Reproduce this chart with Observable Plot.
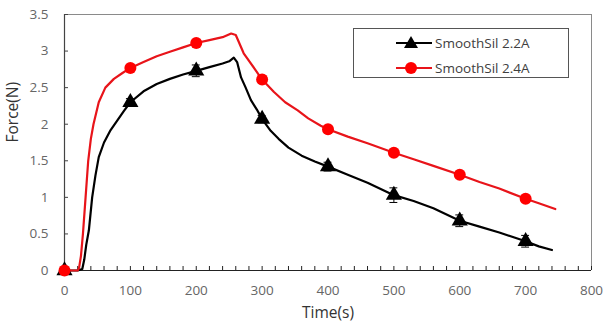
<!DOCTYPE html>
<html><head><meta charset="utf-8">
<script src="https://cdn.jsdelivr.net/npm/d3@7"></script>
<script src="https://cdn.jsdelivr.net/npm/@observablehq/plot@0.6"></script>
<style>
body{margin:0;background:#fff;}
#wrap{position:relative;width:603px;height:327px;font-family:"Open Sans",sans-serif;}
#legend{position:absolute;left:353px;top:28px;width:214px;height:48px;border:1px solid #555;background:#fff;}
.row{position:absolute;left:0;height:20px;display:flex;align-items:center;}
.row span{font-size:13.5px;color:#404040;margin-left:3px;}
</style>
</head><body>
<div id="wrap"></div>
<script>
const series22 = "SmoothSil 2.2A";
const series24 = "SmoothSil 2.4A";

// Continuous trace, SmoothSil 2.2A
const t22 = [0,20,27,30,33,37,42,47,52,60,70,80,90,100,120,140,160,180,200,220,240,250,257,262,268,275,283,292,300,313,325,340,360,380,400,430,460,500,530,560,600,630,660,700,720,740];
const f22 = [0,0,0.02,0.15,0.35,0.55,1.0,1.3,1.55,1.75,1.92,2.05,2.18,2.3,2.45,2.55,2.62,2.68,2.73,2.78,2.83,2.86,2.91,2.85,2.64,2.5,2.33,2.2,2.07,1.91,1.8,1.68,1.57,1.49,1.42,1.31,1.2,1.03,0.95,0.85,0.68,0.6,0.52,0.40,0.33,0.28];

// Continuous trace, SmoothSil 2.4A
const t24 = [0,20,22,25,28,32,36,40,44,52,62,75,88,100,120,140,160,180,200,220,240,253,260,272,290,300,318,335,354,370,389,400,430,460,500,530,560,600,630,660,700,720,745];
const f24 = [0,0,0.03,0.2,0.5,1.0,1.5,1.8,2.0,2.3,2.5,2.62,2.7,2.77,2.85,2.93,2.99,3.05,3.11,3.15,3.19,3.24,3.22,2.97,2.74,2.61,2.44,2.3,2.19,2.08,1.98,1.93,1.83,1.74,1.61,1.52,1.43,1.31,1.21,1.12,0.98,0.92,0.84];

// Markers
const mt = [0,100,200,300,400,500,600,700];
const m22 = [0,2.30,2.73,2.07,1.42,1.03,0.68,0.40];
const e22 = [0,0.05,0.08,0.05,0.06,0.10,0.08,0.08];
const m24 = [0,2.77,3.11,2.61,1.93,1.61,1.31,0.98];

const xTicks = [0,100,200,300,400,500,600,700,800];
const xMinor = d3.range(0,801,20);
const yTicks = [0,0.5,1,1.5,2,2.5,3,3.5];

const line22 = t22.map((t,i)=>({t, f:f22[i]}));
const line24 = t24.map((t,i)=>({t, f:f24[i]}));
const mk22 = mt.map((t,i)=>({t, f:m22[i], e:e22[i]}));
const mk24 = mt.map((t,i)=>({t, f:m24[i]}));
const bars22 = mk22.filter(d=>d.e>0);

const chart = Plot.plot({
  width:603, height:327,
  marginLeft:64, marginRight:12, marginTop:14, marginBottom:57,
  style:{fontFamily:"Open Sans, sans-serif", fontSize:"13.5px", color:"#666", background:"#fff", overflow:"visible"},
  x:{type:"linear", domain:[0,800], label:null},
  y:{type:"linear", domain:[0,3.5], label:null},
  marks:[
    Plot.ruleY([3.5],{stroke:"#8a8a8a", strokeWidth:1}),
    Plot.ruleX([800],{stroke:"#8a8a8a", strokeWidth:1}),
    Plot.axisX({ticks:xMinor, tickSize:-4, tickFormat:()=>"", stroke:"#222", label:null}),
    Plot.axisX({ticks:xTicks, tickSize:0, tickPadding:15, tickFormat:d=>String(d), fill:"#666", label:null}),
    Plot.axisY({ticks:yTicks, tickSize:-4, tickFormat:()=>"", stroke:"#444", label:null}),
    Plot.axisY({ticks:yTicks, tickSize:0, tickPadding:16, tickFormat:d=>String(d), fill:"#666", label:null}),
    Plot.text(["Time(s)"],{frameAnchor:"bottom", dy:47, fontSize:15.5, fill:"#333", text:d=>d}),
    Plot.text(["Force(N)"],{frameAnchor:"left", dx:-51, rotate:-90, fontSize:15.5, fill:"#333", text:d=>d}),
    Plot.ruleX([0],{stroke:"#444", strokeWidth:1.2}),
    Plot.ruleY([0],{stroke:"#222", strokeWidth:1.2}),
    Plot.line(line22,{x:"t", y:"f", stroke:"#000", strokeWidth:2.2}),
    Plot.line(line24,{x:"t", y:"f", stroke:"#e8141a", strokeWidth:2.2}),
    Plot.ruleX(bars22,{x:"t", y1:d=>d.f-d.e, y2:d=>d.f+d.e, stroke:"#000", strokeWidth:1}),
    Plot.ruleY(bars22,{x1:d=>d.t-6, x2:d=>d.t+6, y:d=>d.f+d.e, stroke:"#000", strokeWidth:1}),
    Plot.ruleY(bars22,{x1:d=>d.t-6, x2:d=>d.t+6, y:d=>d.f-d.e, stroke:"#000", strokeWidth:1}),
    Plot.dot(mk22,{x:"t", y:"f", symbol:"triangle", r:6, fill:"#000"}),
    Plot.dot(mk24,{x:"t", y:"f", symbol:"circle", r:6, fill:"#ff0000"})
  ]
});
const wrap = document.getElementById("wrap");
wrap.appendChild(chart);

// Legend overlay
const legend = document.createElement("div");
legend.id = "legend";
const entries = [
  {name:series22, color:"#000", sym:"tri"},
  {name:series24, color:"#e8141a", sym:"circ"}
];
entries.forEach((e,i)=>{
  const row = document.createElement("div");
  row.className = "row";
  row.style.top = (4 + i*25) + "px";
  const sym = e.sym === "tri"
    ? `<path d="M57,3 L64,15 L50,15 Z" fill="${e.color}"/>`
    : `<circle cx="57" cy="10" r="6" fill="#ff0000"/>`;
  row.innerHTML = `<svg width="78" height="20"><line x1="42" x2="78" y1="10" y2="10" stroke="${e.color}" stroke-width="2"/>${sym}</svg><span>${e.name}</span>`;
  legend.appendChild(row);
});
wrap.appendChild(legend);
</script>
</body></html>
